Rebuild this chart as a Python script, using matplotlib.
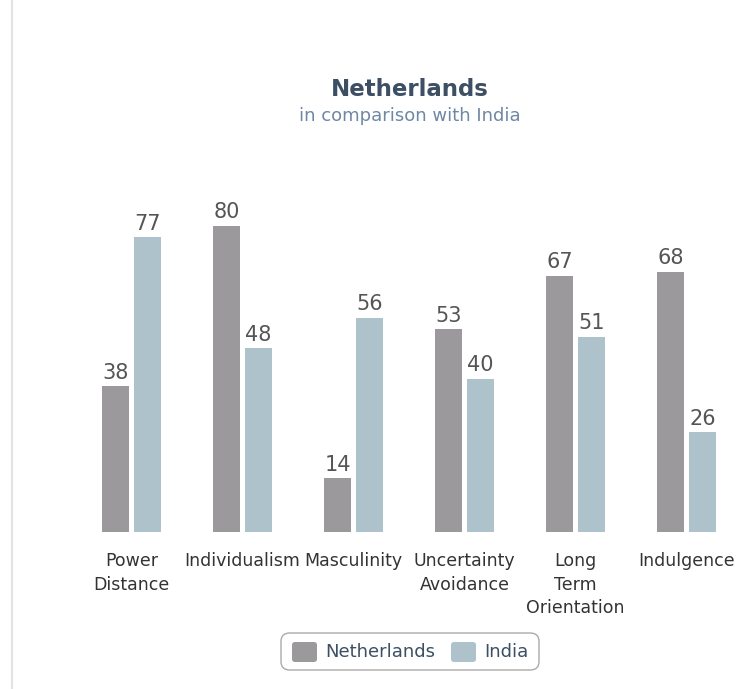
import matplotlib
matplotlib.use('Agg')
import matplotlib.pyplot as plt
from matplotlib.patches import FancyBboxPatch
from matplotlib.lines import Line2D
import numpy as np

# Данные
categories = ['Power\nDistance', 'Individualism', 'Masculinity',
              'Uncertainty\nAvoidance', 'Long\nTerm\nOrientation', 'Indulgence']
netherlands = [38, 80, 14, 53, 67, 68]
india = [77, 48, 56, 40, 51, 26]

gray = '#9b999c'
blue = '#adc2ca'
dark = '#3d4f63'

plt.rcParams['font.family'] = ['DejaVu Sans']

fig = plt.figure(figsize=(7.4, 6.89), dpi=100)
W, H = 740, 689

# оси: базовая линия на y=531 px, центры групп через 111 px начиная с 131.5
ax = fig.add_axes([20 / W, (H - 531.5) / H, 720 / W, 351.5 / H])
x = np.arange(len(categories))
bw = 0.243
off = 0.144
b1 = ax.bar(x - off, netherlands, bw, color=gray, label='Netherlands')
b2 = ax.bar(x + off, india, bw, color=blue, label='India')

for bars, vals in ((b1, netherlands), (b2, india)):
    for r, v in zip(bars, vals):
        ax.text(r.get_x() + r.get_width() / 2, v + 0.9, str(v),
                ha='center', va='bottom', fontsize=15, color='#555555')

ax.set_xlim((20 - 131.5) / 111, (740 - 131.5) / 111)
ax.set_ylim(0, 351.5 / 3.82)
ax.set_xticks(x)
ax.set_xticklabels(categories, fontsize=12.5, color='#333333', linespacing=1.38)
ax.tick_params(length=0, pad=15)
ax.set_yticks([])
for s in ax.spines.values():
    s.set_visible(False)

# заголовок
fig.text(410 / W, 1 - 90 / H, 'Netherlands', ha='center', va='center',
         fontsize=16.5, fontweight='bold', color=dark)
fig.text(410 / W, 1 - 116 / H, 'in comparison with India', ha='center', va='center',
         fontsize=13, color='#6e88a3')

# левая линия
fig.add_artist(Line2D([12 / W, 12 / W], [0, 1], color='#e3e3e3', lw=1.5))

# легенда
box = FancyBboxPatch((281 / W, 1 - 670 / H), 258 / W, 37 / H,
                     boxstyle='round,pad=0,rounding_size=0.012',
                     transform=fig.transFigure, facecolor='white',
                     edgecolor='#aaaaaa', lw=1)
fig.add_artist(box)
for px, col, lab in ((292, gray, 'Netherlands'), (451, blue, 'India')):
    sq = FancyBboxPatch((px / W, 1 - 662 / H), 25 / W, 20 / H,
                        boxstyle='round,pad=0,rounding_size=0.004',
                        transform=fig.transFigure, facecolor=col, edgecolor='none')
    fig.add_artist(sq)
    fig.text((px + 33) / W, 1 - 652 / H, lab, ha='left', va='center',
             fontsize=13, color=dark)

fig.savefig('out.png', dpi=100)
